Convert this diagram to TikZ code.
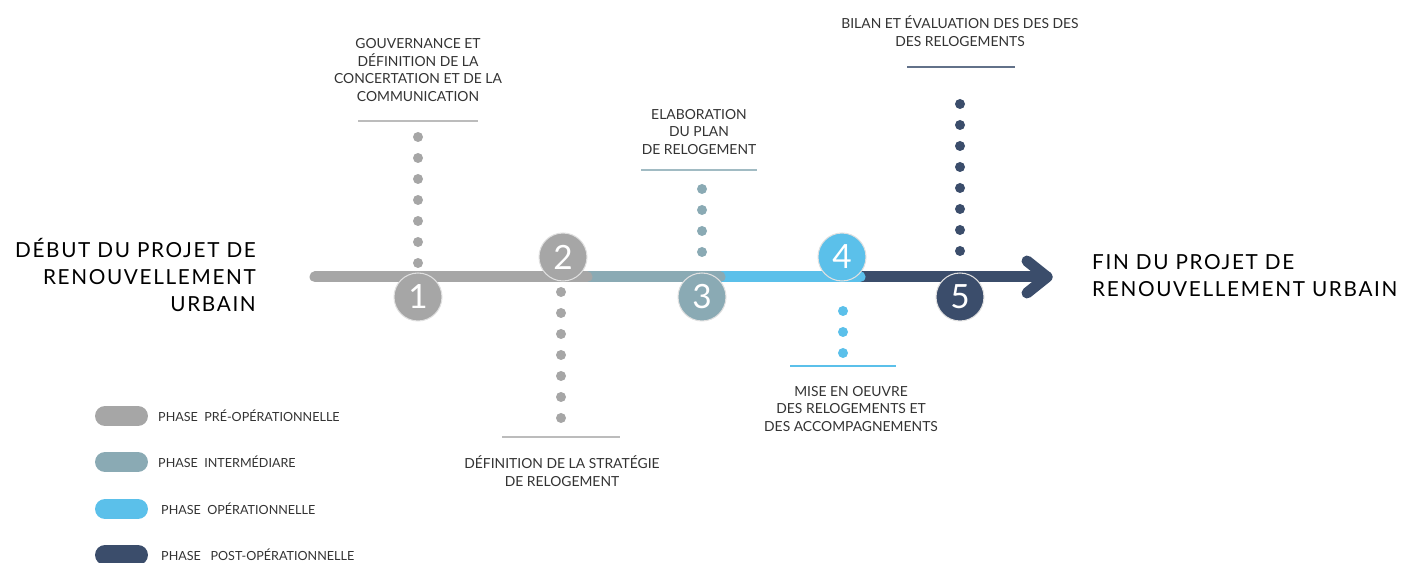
\documentclass[tikz,border=0pt]{standalone}
\usepackage{fontspec}
\setmainfont{Lato}
\newfontfamily\titlefont[LetterSpace=8]{Lato}
\definecolor{preop}{HTML}{A6A6A6}
\definecolor{interm}{HTML}{8AAAB4}
\definecolor{oper}{HTML}{5BC0EA}
\definecolor{postop}{HTML}{3B4D6B}
\definecolor{txt}{HTML}{333333}

\begin{document}
\begin{tikzpicture}[x=0.02cm,y=-0.02cm,
  axis/.style={line width=0.22cm,line cap=round,line join=round},
  numcircle/.style={circle,minimum size=0.96cm,inner sep=0pt,draw=black!12,line width=0.6pt,
    text=white,font=\fontsize{19}{19}\selectfont},
  rule/.style={line width=0.9pt},
  desc/.style={align=center,text=txt,font=\fontsize{7.9}{10.2}\selectfont},
  title/.style={text=black,font=\titlefont\fontsize{11.8}{15.4}\selectfont},
  pill/.style={line width=0.4cm,line cap=round},
  legend/.style={anchor=west,text=txt,font=\fontsize{7.15}{9}\selectfont}]
\useasboundingbox (0,0) rectangle (1414,563);

% main line, last phase first
\draw[axis,postop] (860,277) -- (1047,277);
\draw[axis,postop] (1027,261) -- (1047,277) -- (1027,293);
\draw[axis,oper]   (720,277) -- (860,277);
\draw[axis,interm] (585,277) -- (720,277);
\draw[axis,preop]  (315,277) -- (587,277);

% 1
\foreach \y in {137,158,...,265} \fill[preop] (418,\y) circle (1mm);
\draw[rule,preop!75] (358,121) -- (478,121);
\node[desc] (t1) at (418,70) {GOUVERNANCE ET\\DÉFINITION DE LA\\CONCERTATION ET DE LA\\COMMUNICATION};
\node[numcircle,fill=preop] (c1) at (418,297) {1};

% 2
\foreach \y in {292,313,...,420} \fill[preop] (561,\y) circle (1mm);
\draw[rule,preop!75] (502,437) -- (620,437);
\node[desc] (t2) at (562,471) {DÉFINITION DE LA STRATÉGIE\\DE RELOGEMENT};
\node[numcircle,fill=preop] (c2) at (563,257) {2};

% 3
\foreach \y in {189,210,...,253} \fill[interm] (702,\y) circle (1mm);
\draw[rule,interm!80] (641,170) -- (757,170);
\node[desc] (t3) at (699,132) {ELABORATION\\DU PLAN\\DE RELOGEMENT};
\node[numcircle,fill=interm] (c3) at (702,297) {3};

% 4
\foreach \y in {311,332,...,354} \fill[oper] (843,\y) circle (1mm);
\draw[rule,oper] (790,366) -- (896,366);
\node[desc] (t4) at (851,409) {MISE EN OEUVRE\\DES RELOGEMENTS ET\\DES ACCOMPAGNEMENTS};
\node[numcircle,fill=oper] (c4) at (842,257) {4};

% 5
\foreach \y in {104,125,...,254} \fill[postop] (960,\y) circle (1mm);
\draw[rule,postop!80] (907,67) -- (1015,67);
\node[desc] (t5) at (960,31) {BILAN ET ÉVALUATION DES DES DES\\DES RELOGEMENTS};
\node[numcircle,fill=postop] (c5) at (960,297) {5};

% start / end
\node[title,align=right,anchor=east] (start) at (262,275) {DÉBUT DU PROJET DE\\RENOUVELLEMENT\\URBAIN};
\node[title,align=left,anchor=west] (end) at (1086,276) {FIN DU PROJET DE\\RENOUVELLEMENT URBAIN};

% legend
\draw[pill,preop]  (105,416) -- (138,416);
\node[legend] (l1) at (152,416) {PHASE\ \ PRÉ-OPÉRATIONNELLE};
\draw[pill,interm] (105,462) -- (138,462);
\node[legend] (l2) at (152,462) {PHASE\ \ INTERMÉDIARE};
\draw[pill,oper]   (105,509) -- (138,509);
\node[legend] (l3) at (155,509) {PHASE\ \ OPÉRATIONNELLE};
\draw[pill,postop] (105,555) -- (138,555);
\node[legend] (l4) at (155,555) {PHASE\ \ \ POST-OPÉRATIONNELLE};
\end{tikzpicture}
\end{document}
